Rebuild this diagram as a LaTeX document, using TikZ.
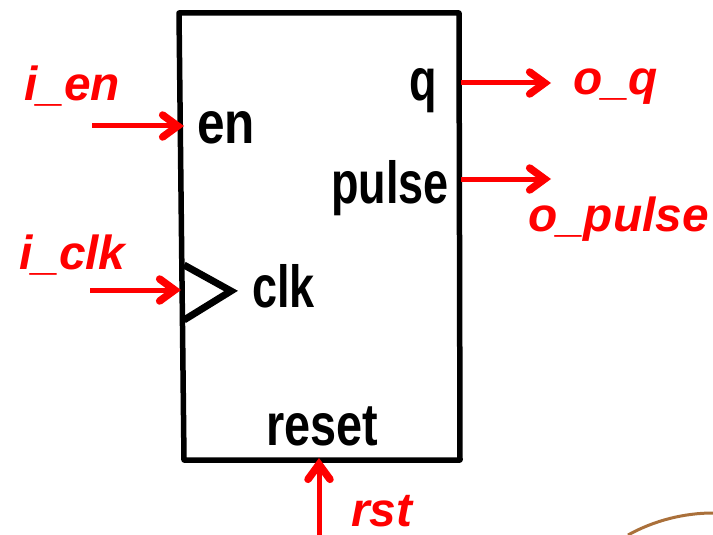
\documentclass[tikz,border=0pt]{standalone}
\usepackage{fontspec}
\setmainfont{Liberation Sans}
\definecolor{sred}{RGB}{255,0,0}
\definecolor{seal}{RGB}{170,112,58}
\usetikzlibrary{arrows.meta}
\tikzset{
  x=1pt,y=-1pt,
  sig/.style={text=sred,font=\fontsize{47.8}{47.8}\selectfont\bfseries\itshape,inner sep=0pt,anchor=base west},
  port/.style={text=black,font=\fontsize{45}{45}\selectfont\bfseries,inner sep=0pt,anchor=base west,yscale=1.32,transform shape},
  wire/.style={draw=sred,line width=5pt,-{Straight Barb[length=15pt,width=22pt,line width=7.5pt,line cap=round,line join=miter]}},
  body/.style={draw=black,line width=5.5pt,line cap=round,line join=round},
}
\begin{document}
\begin{tikzpicture}
\useasboundingbox (0,0) rectangle (713,535);
\coordinate (tl) at (179,13); \coordinate (tr) at (459,13);
\coordinate (bl) at (184,460); \coordinate (br) at (460,460);
\draw[body] (tl) -- (tr) -- (br) -- (bl) -- cycle;
\coordinate (t1) at (184,265); \coordinate (t2) at (231,291); \coordinate (t3) at (184,320);
\draw[body,line width=7pt,miter limit=4,line cap=butt,line join=miter] (t1) -- (t2) -- (t3);
\node[port,xscale=1.1] (en) at (197,143) {en};
\node[port] (q) at (409,101) {q};
\node[port] (pulse) at (331,203) {pulse};
\node[port] (clk) at (252,307) {clk};
\node[port,xscale=1.04] (reset) at (266,445) {reset};
\node[sig] (ien) at (24,101) {i\_en};
\node[sig] (iclk) at (19,269) {i\_clk};
\node[sig] (oq) at (573,95) {o\_q};
\node[sig] (opulse) at (528,231) {o\_pulse};
\node[sig] (rstl) at (351,526) {rst};
\coordinate (a1) at (92,126); \coordinate (a2) at (184,126);
\coordinate (b1) at (90,290); \coordinate (b2) at (181,290);
\coordinate (c1) at (461,83); \coordinate (c2) at (551,83);
\coordinate (d1) at (461,179); \coordinate (d2) at (551,179);
\coordinate (e1) at (319,535); \coordinate (e2) at (319,458);
\draw[wire] (a1) -- (a2);
\draw[wire] (b1) -- (b2);
\draw[wire] (c1) -- (c2);
\draw[wire] (d1) -- (d2);
\draw[wire] (e1) -- (e2);
\begin{scope}
\clip (0,0) rectangle (713,535);
\coordinate (s1) at (628,535); \coordinate (s2) at (713,513);
\draw[seal,line width=3pt] (s1) .. controls (655,520) and (685,513) .. (s2);
\end{scope}
\end{tikzpicture}
\end{document}
